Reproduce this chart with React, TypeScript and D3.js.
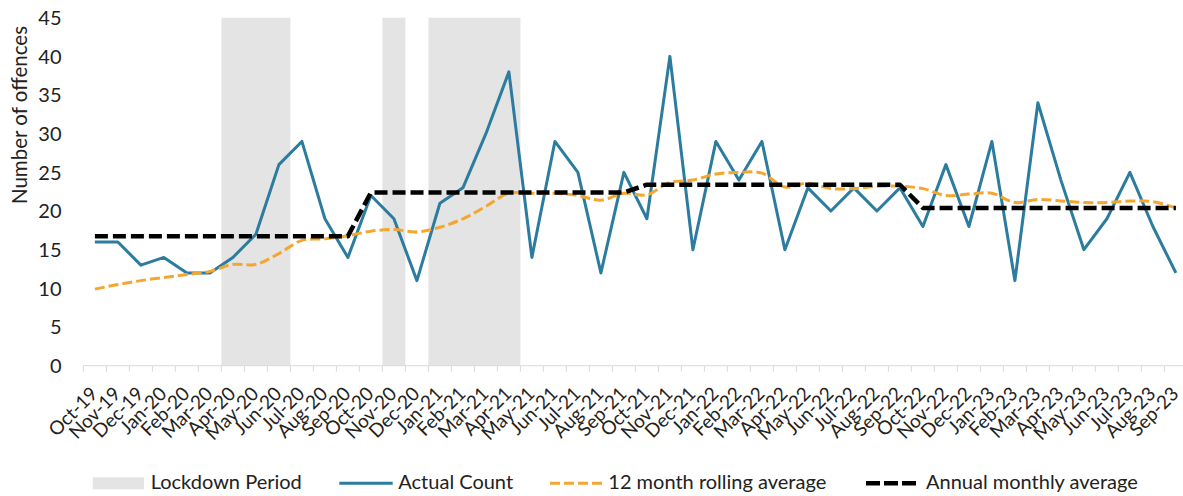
import React from "react";
import * as d3 from "d3";

const months = [
  "Oct-19","Nov-19","Dec-19","Jan-20","Feb-20","Mar-20","Apr-20","May-20","Jun-20","Jul-20","Aug-20","Sep-20",
  "Oct-20","Nov-20","Dec-20","Jan-21","Feb-21","Mar-21","Apr-21","May-21","Jun-21","Jul-21","Aug-21","Sep-21",
  "Oct-21","Nov-21","Dec-21","Jan-22","Feb-22","Mar-22","Apr-22","May-22","Jun-22","Jul-22","Aug-22","Sep-22",
  "Oct-22","Nov-22","Dec-22","Jan-23","Feb-23","Mar-23","Apr-23","May-23","Jun-23","Jul-23","Aug-23","Sep-23",
];

const actualCount = [
  16, 16, 13, 14, 12, 12, 14, 17, 26, 29, 19, 14,
  22, 19, 11, 21, 23, 30, 38, 14, 29, 25, 12, 25,
  19, 40, 15, 29, 24, 29, 15, 23, 20, 23, 20, 23,
  18, 26, 18, 29, 11, 34, 24, 15, 19, 25, 18, 12,
];

const rollingAverage = [
  9.9, 10.5, 11.0, 11.4, 11.8, 12.2, 13.1, 13.1, 14.5, 16.2, 16.4, 16.8,
  17.4, 17.6, 17.3, 17.9, 19.0, 20.6, 22.3, 22.3, 22.3, 22.0, 21.4, 22.3,
  22.1, 23.7, 24.0, 24.8, 25.0, 24.9, 23.1, 23.6, 22.9, 22.9, 23.2, 23.2,
  22.9, 22.0, 22.2, 22.3, 21.1, 21.5, 21.3, 21.1, 21.1, 21.3, 21.2, 20.4,
];

const annualAverage = [
  16.75, 16.75, 16.75, 16.75, 16.75, 16.75, 16.75, 16.75, 16.75, 16.75, 16.75, 16.75,
  22.4, 22.4, 22.4, 22.4, 22.4, 22.4, 22.4, 22.4, 22.4, 22.4, 22.4, 22.4,
  23.4, 23.4, 23.4, 23.4, 23.4, 23.4, 23.4, 23.4, 23.4, 23.4, 23.4, 23.4,
  20.4, 20.4, 20.4, 20.4, 20.4, 20.4, 20.4, 20.4, 20.4, 20.4, 20.4, 20.4,
];

// lockdown periods: [first month, last month]
const lockdowns = [
  ["Apr-20", "Jun-20"],
  ["Nov-20", "Nov-20"],
  ["Jan-21", "Apr-21"],
];

const yTicks = [0, 5, 10, 15, 20, 25, 30, 35, 40, 45];

const legendItems = [
  { label: "Lockdown Period", kind: "rect" },
  { label: "Actual Count", kind: "actual" },
  { label: "12 month rolling average", kind: "rolling" },
  { label: "Annual monthly average", kind: "annual" },
];

const W = 1183;
const H = 496;
const FONT = "Lato, 'Open Sans', sans-serif";
const BLUE = "#2b7c9e";
const ORANGE = "#f5a62f";
const SHADE = "#e4e4e4";
const AXIS = "#d9d9d9";

export default function App() {
  const x = d3.scaleBand<string>().domain(months).range([83.4, 1187.4]).padding(0);
  const y = d3.scaleLinear().domain([0, 45]).range([365.7, 17.7]);
  const bw = x.bandwidth();
  const cx = (i: number) => (x(months[i]) as number) + bw / 2;

  const lineActual = d3.line<number>().x((_, i) => cx(i)).y((d) => y(d));
  const lineRolling = d3
    .line<number>()
    .x((_, i) => cx(i))
    .y((d) => y(d))
    .curve(d3.curveCatmullRom.alpha(0.5));
  const lineAnnual = d3
    .line<number>()
    .x((_, i) => cx(i))
    .y((d) => y(d));

  const boundaries = d3.range(months.length + 1).map((i) => x.range()[0] + i * bw);

  const legendX = [92.7, 339.3, 550, 866];
  const legendTextX = [150.7, 398.3, 608.3, 926];
  const legendY = 483.3;

  return (
    <svg
      width={W}
      height={H}
      style={{ position: "absolute", left: 0, top: 0, background: "#fff" }}
      fontFamily={FONT}
    >
      <rect x={0} y={0} width={W} height={H} fill="#fff" />
      {lockdowns.map(([a, b], i) => (
        <rect
          key={i}
          x={x(a) as number}
          y={y(45)}
          width={(x(b) as number) + bw - (x(a) as number)}
          height={y(0) - y(45)}
          fill={SHADE}
        />
      ))}
      {/* x axis */}
      <line x1={x.range()[0]} x2={x.range()[1]} y1={y(0)} y2={y(0)} stroke={AXIS} strokeWidth={1} />
      {boundaries.map((bx, i) => (
        <line key={i} x1={bx} x2={bx} y1={y(0)} y2={y(0) + 6} stroke={AXIS} strokeWidth={1} />
      ))}
      {months.map((m, i) => (
        <text
          key={m}
          transform={`translate(${cx(i) + 4},${395}) rotate(-45)`}
          textAnchor="end"
          fontSize={19}
          fill="#222"
        >
          {m}
        </text>
      ))}
      {/* y axis labels */}
      {yTicks.map((t) => (
        <text key={t} x={61.5} y={y(t)} dy="0.36em" textAnchor="end" fontSize={20} fill="#222">
          {t}
        </text>
      ))}
      <text
        transform={`translate(26.5,115) rotate(-90)`}
        textAnchor="middle"
        fontSize={20.5}
        fill="#222"
      >
        Number of offences
      </text>
      {/* series */}
      <path d={lineActual(actualCount) || ""} fill="none" stroke={BLUE} strokeWidth={3} strokeLinejoin="round" />
      <path
        d={lineRolling(rollingAverage) || ""}
        fill="none"
        stroke={ORANGE}
        strokeWidth={3}
        strokeDasharray="10 4"
      />
      <path
        d={lineAnnual(annualAverage) || ""}
        fill="none"
        stroke="#000"
        strokeWidth={4.5}
        strokeDasharray="13 5"
        strokeLinejoin="round"
      />
      {/* legend */}
      {legendItems.map((it, i) => (
        <g key={it.label}>
          {it.kind === "rect" && (
            <rect x={legendX[i]} y={477.3} width={51.3} height={12} fill={SHADE} />
          )}
          {it.kind === "actual" && (
            <line x1={legendX[i]} x2={legendX[i] + 53.4} y1={legendY} y2={legendY} stroke={BLUE} strokeWidth={3} />
          )}
          {it.kind === "rolling" && (
            <line
              x1={legendX[i]}
              x2={legendX[i] + 52}
              y1={legendY}
              y2={legendY}
              stroke={ORANGE}
              strokeWidth={3}
              strokeDasharray="10 4"
            />
          )}
          {it.kind === "annual" && (
            <line
              x1={legendX[i]}
              x2={legendX[i] + 50}
              y1={legendY}
              y2={legendY}
              stroke="#000"
              strokeWidth={4.5}
              strokeDasharray="14 4"
            />
          )}
          <text x={legendTextX[i]} y={489.3} fontSize={20} fill="#222">
            {it.label}
          </text>
        </g>
      ))}
    </svg>
  );
}
